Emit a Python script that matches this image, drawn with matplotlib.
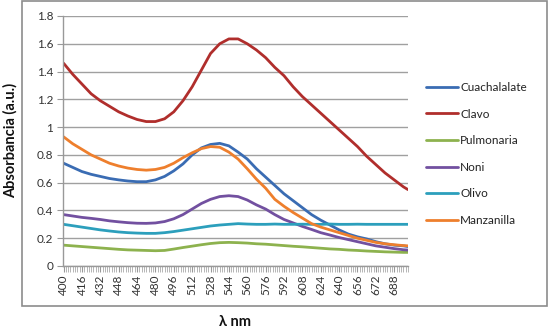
import matplotlib
matplotlib.use("Agg")
import matplotlib.pyplot as plt
from matplotlib.patches import Rectangle
from matplotlib.ticker import MultipleLocator, FixedLocator

wavelength = list(range(400, 700, 8)) + [700]

cuachalalate = [0.74, 0.71, 0.68, 0.66, 0.645, 0.63, 0.62, 0.612, 0.607, 0.607,
                0.62, 0.645, 0.685, 0.735, 0.80, 0.85, 0.875, 0.883, 0.865, 0.82,
                0.77, 0.70, 0.64, 0.58, 0.52, 0.47, 0.42, 0.37, 0.33, 0.295,
                0.26, 0.23, 0.21, 0.195, 0.175, 0.16, 0.15, 0.145, 0.14]
clavo = [1.46, 1.38, 1.31, 1.24, 1.19, 1.15, 1.11, 1.08, 1.055, 1.04,
         1.04, 1.06, 1.11, 1.19, 1.29, 1.41, 1.53, 1.60, 1.635, 1.635,
         1.60, 1.555, 1.50, 1.43, 1.37, 1.29, 1.22, 1.16, 1.10, 1.04,
         0.98, 0.92, 0.86, 0.79, 0.73, 0.67, 0.62, 0.57, 0.55]
pulmonaria = [0.15, 0.145, 0.14, 0.135, 0.13, 0.125, 0.12, 0.116, 0.114, 0.112,
              0.11, 0.112, 0.122, 0.133, 0.143, 0.153, 0.162, 0.168, 0.17, 0.168,
              0.165, 0.16, 0.157, 0.152, 0.147, 0.142, 0.138, 0.133, 0.128, 0.123,
              0.12, 0.115, 0.112, 0.108, 0.105, 0.102, 0.10, 0.098, 0.098]
noni = [0.37, 0.36, 0.35, 0.343, 0.335, 0.325, 0.318, 0.312, 0.308, 0.307,
        0.31, 0.32, 0.34, 0.37, 0.41, 0.45, 0.48, 0.50, 0.506, 0.50,
        0.475, 0.44, 0.41, 0.37, 0.335, 0.31, 0.285, 0.263, 0.24, 0.223,
        0.205, 0.19, 0.175, 0.16, 0.145, 0.135, 0.125, 0.117, 0.115]
olivo = [0.30, 0.29, 0.28, 0.27, 0.26, 0.252, 0.245, 0.24, 0.237, 0.235,
         0.235, 0.24, 0.248, 0.258, 0.268, 0.278, 0.288, 0.295, 0.30, 0.305,
         0.302, 0.30, 0.30, 0.302, 0.30, 0.30, 0.301, 0.30, 0.30, 0.302,
         0.30, 0.30, 0.301, 0.30, 0.30, 0.30, 0.30, 0.30, 0.30]
manzanilla = [0.93, 0.88, 0.84, 0.80, 0.77, 0.74, 0.72, 0.705, 0.695, 0.69,
              0.695, 0.71, 0.74, 0.78, 0.815, 0.845, 0.86, 0.855, 0.82, 0.77,
              0.70, 0.625, 0.56, 0.48, 0.43, 0.385, 0.345, 0.305, 0.28, 0.26,
              0.24, 0.22, 0.20, 0.185, 0.17, 0.16, 0.153, 0.147, 0.145]

series_names = ["Cuachalalate", "Clavo", "Pulmonaria", "Noni", "Olivo", "Manzanilla"]
series_values = [cuachalalate, clavo, pulmonaria, noni, olivo, manzanilla]
colors = ["#3A6CB3", "#B02E2C", "#8DB24E", "#7250A0", "#2C9FBC", "#EE7F2D"]

x_tick_labels = list(range(400, 689, 16))
y_ticks = [0, 0.2, 0.4, 0.6, 0.8, 1.0, 1.2, 1.4, 1.6, 1.8]
y_tick_labels = ["0", "0.2", "0.4", "0.6", "0.8", "1", "1.2", "1.4", "1.6", "1.8"]

plt.rcParams['font.family'] = ['Lato', 'DejaVu Sans']

fig = plt.figure(figsize=(5.5, 3.28), dpi=100)
ax = fig.add_axes([63/550, 1-266/328, (408-63)/550, (266-16)/328])

lines = []
for name, vals, c in zip(series_names, series_values, colors):
    ln, = ax.plot(wavelength, vals, color=c, lw=2.0, label=name,
                  solid_capstyle='round', solid_joinstyle='round')
    lines.append(ln)

ax.set_xlim(399.5, 700)
ax.set_ylim(0, 1.8)
ax.set_yticks(y_ticks)
ax.set_yticklabels(y_tick_labels, fontsize=8.5, color="#333333")
ax.xaxis.set_major_locator(FixedLocator(x_tick_labels))
ax.set_xticklabels([str(v) for v in x_tick_labels], rotation=90, fontsize=8.5, color="#333333")
ax.xaxis.set_minor_locator(MultipleLocator(2))
ax.tick_params(axis='x', which='major', length=4, color="#999999", direction='out', pad=2)
ax.tick_params(axis='x', which='minor', length=4, color="#AAAAAA", width=0.6, direction='out')
ax.tick_params(axis='y', which='major', length=4, color="#999999", direction='out', pad=3)

ax.grid(axis='y', color="#A0A0A0", lw=1.0)
ax.set_axisbelow(True)
for s in ["top", "right"]:
    ax.spines[s].set_visible(False)
for s in ["left", "bottom"]:
    ax.spines[s].set_color("#999999")
    ax.spines[s].set_linewidth(1.0)

fig.text(10/550, 1-140/328, "Absorbancia (a.u.)", rotation=90, ha='center', va='center',
         fontsize=10.5, fontweight='bold', color="#111111")
fig.text(235/550, 1-322/328, "λ nm", ha='center', va='center',
         fontsize=10.5, fontweight='bold', color="#111111")

leg = fig.legend(handles=lines, loc='upper left', bbox_to_anchor=(426/550, 1-82/328),
                 frameon=False, fontsize=8.5, handlelength=2.7, handletextpad=0.2,
                 labelspacing=1.32, borderaxespad=0, borderpad=0)
for t in leg.get_texts():
    t.set_color("#222222")

fig.patches.append(Rectangle((22/550, 1-306/328), 525/550, 305/328, transform=fig.transFigure,
                             fill=False, edgecolor="#8C8C8C", lw=1.2))

fig.savefig("out.png", dpi=100)
